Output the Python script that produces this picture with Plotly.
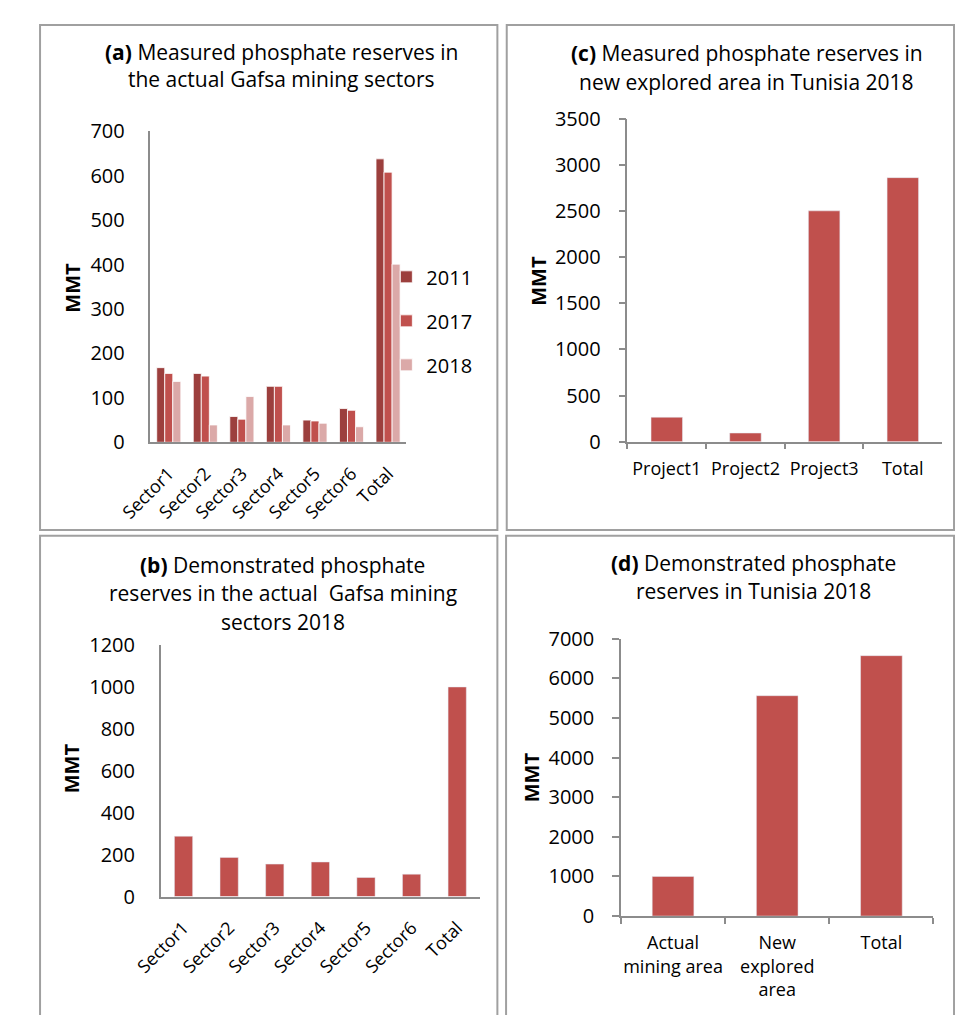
import plotly.graph_objects as go

W, H = 955, 1015

# ---------------- data ----------------
sectors = ["Sector1", "Sector2", "Sector3", "Sector4", "Sector5", "Sector6", "Total"]
years = ["2011", "2017", "2018"]
measured_2011 = [168, 155, 58, 126, 50, 76, 638]
measured_2017 = [155, 149, 52, 126, 48, 72, 608]
measured_2018 = [137, 39, 103, 39, 43, 35, 401]

demonstrated_sectors_2018 = [288, 187, 155, 165, 91, 107, 1000]

projects = ["Project1", "Project2", "Project3", "Total"]
new_area_measured_2018 = [265, 94, 2500, 2860]

areas = ["Actual<br>mining area", "New<br>explored<br>area", "Total"]
tunisia_demonstrated_2018 = [1000, 5560, 6570]

# ---------------- style ----------------
FONT = "Open Sans"
year_colors = ["#9C3F3D", "#C0504D", "#DBA9A8"]
BAR = "#C0504D"
AXC = "#8C8C8C"


def px(x):
    return x / W


def py(y):
    return 1 - y / H


fig = go.Figure()

# (a) grouped bars
for name, vals, col in zip(years, [measured_2011, measured_2017, measured_2018], year_colors):
    fig.add_trace(go.Bar(x=sectors, y=vals, name=name, marker_color=col,
                         marker_line=dict(color="white", width=0.8),
                         legendgroup=name, xaxis="x", yaxis="y"))

# (c)
fig.add_trace(go.Bar(x=projects, y=new_area_measured_2018, marker_color=BAR, width=0.4,
                     showlegend=False, xaxis="x2", yaxis="y2"))
# (b)
fig.add_trace(go.Bar(x=sectors, y=demonstrated_sectors_2018, marker_color=BAR, width=0.4,
                     showlegend=False, xaxis="x3", yaxis="y3"))
# (d)
fig.add_trace(go.Bar(x=areas, y=tunisia_demonstrated_2018, marker_color=BAR, width=0.4,
                     showlegend=False, xaxis="x4", yaxis="y4"))

tickfont_y = dict(family=FONT, size=20, color="black")
tickfont_x = dict(family=FONT, size=18, color="black")


def yax(dom, rng, dtick, anchor, ticks):
    return dict(domain=[py(dom[1]), py(dom[0])], range=rng, dtick=dtick, anchor=anchor,
                showline=True, linecolor=AXC, linewidth=1.5, showgrid=False, zeroline=False,
                ticks=ticks, ticklen=7, tickcolor=AXC, tickwidth=1.5,
                tickfont=tickfont_y, ticklabelstandoff=14 if ticks else 20, fixedrange=True)


def xax(dom, anchor, ticks, angle=0, standoff=8):
    d = dict(domain=[px(dom[0]), px(dom[1])], anchor=anchor, showline=True, linecolor=AXC,
             linewidth=1.5, showgrid=False, zeroline=False, ticks=ticks, ticklen=6,
             tickcolor=AXC, tickwidth=1.5, tickfont=tickfont_x, tickangle=angle,
             ticklabelstandoff=standoff, fixedrange=True)
    if ticks:
        d["tickson"] = "boundaries"
    return d


fig.update_layout(
    width=W, height=H, autosize=False,
    margin=dict(l=0, r=0, t=0, b=0),
    paper_bgcolor="white", plot_bgcolor="white",
    font=dict(family=FONT, color="black"),
    barmode="group", bargap=0.34, bargroupgap=0,
    xaxis=xax((121.7, 386.7), "y", "", -45, 12),
    yaxis=yax((120.5, 440), [0, 700], 100, "x", ""),
    xaxis2=xax((615.7, 941.7), "y2", "outside", 0, 10),
    yaxis2=yax((107.4, 439.4), [0, 3500], 500, "x2", "outside"),
    xaxis3=xax((132.3, 463), "y3", "", -45, 12),
    yaxis3=yax((648.3, 906.7), [0, 1200], 200, "x3", ""),
    xaxis4=xax((609, 932.7), "y4", "outside", 0, 10),
    yaxis4=yax((641.7, 926.7), [0, 7000], 1000, "x4", "outside"),
    legend=dict(x=px(366), y=py(250), xanchor="left", yanchor="top",
                font=dict(family=FONT, size=20, color="black"),
                tracegroupgap=15, bgcolor="rgba(0,0,0,0)"),
    showlegend=True,
)

# panel borders
BORDER = "#A0A0A0"
for x0, y0, x1, y1 in [(7.3, 11.4, 481, 530), (490.7, 11.4, 954, 530),
                       (7.3, 536, 481, 1030), (490, 536, 954, 1030)]:
    fig.add_shape(type="rect", xref="paper", yref="paper",
                  x0=px(x0), x1=px(x1), y0=py(y1), y1=py(y0),
                  line=dict(color=BORDER, width=2), fillcolor="rgba(0,0,0,0)", layer="below")

# titles (one annotation per line)
titles = [
    (257.5, [(38.8, "<b>(a)</b> Measured phosphate reserves in"),
             (67.0, "the actual Gafsa mining sectors")]),
    (739.5, [(40.5, "<b>(c)</b> Measured phosphate reserves in"),
             (70.0, "new explored area in Tunisia 2018")]),
    (258.5, [(565.8, "<b>(b)</b> Demonstrated phosphate"),
             (595.0, "reserves in the actual  Gafsa mining"),
             (624.2, "sectors 2018")]),
    (746.0, [(563.7, "<b>(d)</b> Demonstrated phosphate"),
             (592.5, "reserves in Tunisia 2018")]),
]
for cx, lines in titles:
    for cy, txt in lines:
        fig.add_annotation(x=px(cx), y=py(cy), xref="paper", yref="paper", text=txt,
                           showarrow=False, xanchor="center", yanchor="middle",
                           font=dict(family=FONT, size=21, color="black"))

# y-axis titles
for cx, cy in [(40, 281.5), (523.3, 273.8), (39.3, 775), (516, 784)]:
    fig.add_annotation(x=px(cx), y=py(cy), xref="paper", yref="paper", text="<b>MMT</b>",
                       showarrow=False, textangle=-90, xanchor="center", yanchor="middle",
                       font=dict(family=FONT, size=20, color="black"))

fig.write_html("out.html")
